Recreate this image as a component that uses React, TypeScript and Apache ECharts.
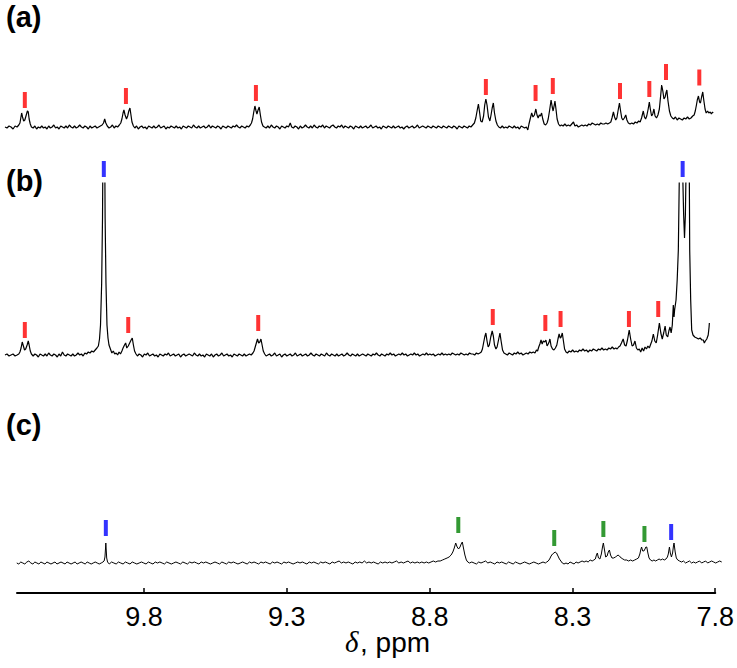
import React, { useEffect, useRef } from "react";
import * as echarts from "echarts";

// x: chemical shift (ppm); y: intensity (arbitrary units)
const traceA: number[][] = [
  [10.286,0],[10.279,-1],[10.272,1],[10.265,0],[10.258,-2],[10.251,1],[10.244,0],[10.238,2],
  [10.234,4],[10.231,9],[10.228,14],[10.225,10],[10.221,6],[10.217,7],[10.212,12],[10.208,16],[10.205,15],[10.202,8],[10.198,3],[10.194,0],
  [10.188,-1],[10.182,1],[10.176,-2],[10.170,0],[10.164,-1],[10.158,1],[10.152,-1],[10.146,0],[10.140,-2],[10.134,1],[10.128,-1],[10.122,0],[10.116,2],[10.110,-1],[10.104,0],[10.098,-2],[10.092,1],[10.086,0],[10.080,-1],[10.074,1],[10.068,-1],[10.062,2],[10.056,0],[10.050,-1],[10.044,1],[10.038,-1],[10.032,0],[10.026,2],[10.020,0],[10.014,-1],[10.008,1],[10.002,0],[9.996,-2],[9.990,1],[9.984,-1],[9.978,0],[9.972,1],[9.966,-1],[9.960,0],[9.954,1],
  [9.948,2],[9.943,4],[9.939,8],[9.935,4],[9.930,1],
  [9.924,-1],[9.918,0],[9.912,2],[9.906,-1],[9.900,1],[9.894,0],[9.888,2],
  [9.883,4],[9.879,8],[9.875,14],[9.872,17],[9.868,12],[9.863,8],[9.859,11],[9.855,16],[9.851,19],[9.848,13],[9.844,5],[9.839,1],
  [9.834,-1],[9.828,1],[9.822,-2],[9.816,0],[9.810,1],[9.804,-1],[9.798,0],[9.792,-2],[9.786,1],[9.780,0],[9.774,-1],[9.768,1],[9.762,-1],[9.756,0],[9.750,2],[9.744,-1],[9.738,0],[9.732,1],[9.726,-2],[9.720,0],[9.714,-1],[9.708,1],[9.702,0],[9.696,-1],[9.690,1],[9.684,-1],[9.678,0],[9.672,-2],[9.666,1],[9.660,0],[9.654,-1],[9.648,1],[9.642,0],[9.636,-1],[9.630,2],[9.624,0],[9.618,-1],[9.612,1],[9.606,-1],[9.600,0],[9.594,1],[9.588,-1],[9.582,0],[9.576,2],[9.570,-1],[9.564,1],[9.558,0],[9.552,-1],[9.546,1],[9.540,0],[9.534,-2],[9.528,1],[9.522,0],[9.516,-1],[9.510,1],[9.504,0],[9.498,-1],[9.492,1],[9.486,0],[9.480,2],[9.474,0],[9.468,-1],[9.462,1],[9.456,0],[9.450,-1],[9.444,1],[9.438,0],[9.432,2],
  [9.428,4],[9.424,8],[9.420,15],[9.416,21],[9.412,16],[9.409,13],[9.405,17],[9.401,20],[9.397,12],[9.393,5],[9.388,1],
  [9.383,0],[9.377,-1],[9.371,1],[9.365,-1],[9.359,2],[9.353,0],[9.347,-1],[9.341,1],[9.335,0],[9.329,-2],[9.323,1],[9.317,0],[9.311,-1],[9.305,1],[9.299,0],[9.293,4],[9.288,0],[9.282,-1],[9.276,1],[9.270,0],[9.264,-2],[9.258,1],[9.252,-1],[9.246,0],[9.240,2],[9.234,0],[9.228,-1],[9.222,1],[9.216,-1],[9.210,2],[9.204,0],[9.198,-1],[9.192,1],[9.186,0],[9.180,2],[9.174,-1],[9.168,1],[9.162,0],[9.156,-1],[9.150,1],[9.144,2],[9.138,0],[9.132,-1],[9.126,1],[9.120,0],[9.114,2],[9.108,-1],[9.102,1],[9.096,0],[9.090,-1],[9.084,1],[9.078,0],[9.072,-2],[9.066,1],[9.060,0],[9.054,-1],[9.048,1],[9.042,-1],[9.036,0],[9.030,1],[9.024,-1],[9.018,0],[9.012,2],[9.006,-1],[9.000,0],[8.994,1],[8.988,-1],[8.982,0],[8.976,-2],[8.970,1],[8.964,0],[8.958,-1],[8.952,1],[8.946,0],[8.940,-1],[8.934,1],[8.928,-1],[8.922,0],[8.916,1],[8.910,-1],[8.904,0],[8.898,-2],[8.892,0],[8.886,1],[8.880,-1],[8.874,0],[8.868,1],[8.862,-1],[8.856,0],[8.850,2],[8.844,-1],[8.838,0],[8.832,1],[8.826,0],[8.820,-1],[8.814,1],[8.808,0],[8.802,-1],[8.796,1],[8.790,0],[8.784,-1],[8.778,1],[8.772,0],[8.766,-1],[8.760,1],[8.754,0],[8.748,-1],[8.742,1],[8.736,0],[8.730,-1],[8.724,1],[8.718,0],[8.712,-2],[8.706,1],[8.700,0],[8.694,-1],[8.688,1],[8.682,0],[8.676,-1],[8.670,1],[8.664,0],[8.658,2],
  [8.652,4],[8.647,9],[8.642,17],[8.638,23],[8.634,15],[8.630,6],[8.625,5],[8.620,11],[8.616,22],[8.612,28],[8.608,22],[8.603,10],[8.598,6],[8.594,12],[8.590,19],[8.586,24],[8.582,14],[8.577,6],[8.572,2],
  [8.567,0],[8.561,-1],[8.555,1],[8.549,-1],[8.543,0],[8.537,-1],[8.531,1],[8.525,0],[8.519,-1],[8.513,1],[8.507,-1],[8.501,0],[8.495,-2],[8.489,1],[8.483,0],[8.477,-1],[8.471,0],[8.466,-3],
  [8.462,3],[8.457,9],[8.4525,14],[8.448,10],[8.443,12],[8.438,18],[8.434,12],[8.430,9],[8.426,12],[8.422,11],[8.418,14],[8.414,8],[8.409,3],[8.404,2],[8.399,4],
  [8.395,8],[8.390,17],[8.385,27],[8.381,20],[8.378,16],[8.3745,21],[8.3715,26],[8.368,18],[8.364,8],[8.359,3],[8.354,1],
  [8.349,2],[8.343,1],[8.337,3],[8.331,1],[8.325,2],[8.319,1],[8.313,3],[8.307,5],[8.302,1],[8.296,2],[8.290,0],[8.284,1],[8.278,2],[8.272,1],[8.266,2],[8.260,1],[8.254,3],[8.248,2],[8.242,4],[8.236,3],[8.230,2],[8.224,3],[8.218,2],[8.212,4],[8.206,3],[8.200,3],[8.194,4],[8.188,3],[8.182,4],[8.177,5],
  [8.173,9],[8.168,15],[8.164,10],[8.160,7],[8.156,9],[8.152,16],[8.147,24],[8.143,16],[8.139,9],[8.135,7],[8.130,9],[8.125,12],[8.121,7],[8.116,4],
  [8.110,3],[8.104,4],[8.098,3],[8.092,5],[8.086,4],[8.080,6],[8.075,5],[8.070,9],
  [8.064,16],[8.060,10],[8.056,8],[8.052,11],[8.047,18],[8.043,25],[8.039,17],[8.035,11],[8.031,13],[8.027,18],[8.023,11],[8.018,9],[8.013,12],[8.008,18],
  [8.004,30],[8.000,42],[7.996,36],[7.992,28],[7.988,30],[7.985,34],[7.982,37],[7.978,26],[7.973,16],[7.968,11],[7.963,9],
  [7.958,8],[7.952,10],[7.946,7],[7.940,9],[7.934,8],[7.928,7],[7.922,9],[7.916,8],[7.910,10],[7.904,8],[7.898,9],[7.892,11],[7.887,12],
  [7.883,16],[7.879,22],[7.876,27],[7.872,31],[7.868,25],[7.865,24],[7.861,30],[7.857,35],[7.853,26],[7.849,18],[7.845,14],[7.840,16],[7.836,14],[7.831,15],[7.827,13],[7.823,15],[7.821,14],
];

const traceB: number[][] = [
  [10.286,0],[10.279,1],[10.272,-1],[10.265,0],[10.258,1],[10.251,-1],[10.244,0],[10.238,1],
  [10.234,3],[10.230,7],[10.226,13],[10.222,9],[10.218,5],[10.214,6],[10.209,10],[10.205,14],[10.202,10],[10.198,4],[10.194,1],
  [10.188,-1],[10.182,1],[10.176,0],[10.170,-2],[10.164,1],[10.158,0],[10.152,-1],[10.146,1],[10.140,-1],[10.134,2],[10.128,0],[10.122,-1],[10.116,1],[10.110,0],[10.104,-2],[10.098,1],[10.092,-1],[10.086,3],[10.080,0],[10.074,-1],[10.068,1],[10.062,0],[10.056,-1],[10.050,1],[10.044,-1],[10.038,0],[10.032,2],[10.026,0],[10.020,1],[10.014,-1],[10.008,2],[10.002,1],[9.996,3],[9.990,2],[9.984,4],[9.978,3],[9.972,5],[9.966,7],[9.961,9],
  [9.957,16],[9.9535,30],[9.9495,72],[9.9465,138],[9.944,260],[9.942,400],[9.940,260],[9.9375,138],[9.9345,72],[9.931,30],[9.9275,17],[9.924,10],[9.919,6],[9.914,2],[9.909,4],[9.904,1],
  [9.899,2],[9.894,0],[9.889,3],[9.884,1],[9.879,4],
  [9.875,7],[9.870,10],[9.866,12],[9.862,7],[9.857,9],[9.852,12],[9.847,15],[9.843,17],[9.839,10],[9.835,4],[9.830,1],
  [9.825,-1],[9.819,1],[9.813,0],[9.807,-2],[9.801,1],[9.795,0],[9.789,2],[9.783,-1],[9.777,0],[9.771,1],[9.765,-1],[9.759,0],[9.753,-2],[9.747,1],[9.741,0],[9.735,-1],[9.729,1],[9.723,0],[9.717,2],[9.711,-1],[9.705,0],[9.699,1],[9.693,-1],[9.687,0],[9.681,1],[9.675,-2],[9.669,0],[9.663,1],[9.657,-1],[9.651,0],[9.645,1],[9.639,0],[9.633,-1],[9.627,2],[9.621,0],[9.615,-1],[9.609,1],[9.603,-1],[9.597,0],[9.591,-2],[9.585,1],[9.579,0],[9.573,-1],[9.567,1],[9.561,-2],[9.555,0],[9.549,1],[9.543,-1],[9.537,0],[9.531,2],[9.525,-1],[9.519,0],[9.513,1],[9.507,-1],[9.501,0],[9.495,-2],[9.489,1],[9.483,0],[9.477,-1],[9.471,1],[9.465,0],[9.459,-1],[9.453,1],[9.447,-1],[9.441,0],[9.435,1],[9.429,0],[9.423,2],
  [9.419,4],[9.415,8],[9.411,12],[9.407,16],[9.403,12],[9.399,13],[9.395,16],[9.391,10],[9.387,4],[9.382,1],
  [9.377,-1],[9.371,0],[9.365,1],[9.359,-1],[9.353,0],[9.347,2],[9.341,-1],[9.335,0],[9.329,1],[9.323,-2],[9.317,0],[9.311,1],[9.305,-1],[9.299,0],[9.293,1],[9.287,-1],[9.281,0],[9.275,2],[9.269,-1],[9.263,0],[9.257,1],[9.251,-1],[9.245,0],[9.239,1],[9.233,-1],[9.227,0],[9.221,2],[9.215,0],[9.209,-1],[9.203,1],[9.197,0],[9.191,-1],[9.185,1],[9.179,0],[9.173,-1],[9.167,2],[9.161,0],[9.155,-1],[9.149,1],[9.143,0],[9.137,-1],[9.131,1],[9.125,-1],[9.119,0],[9.113,1],[9.107,-1],[9.101,0],[9.095,2],[9.089,0],[9.083,-1],[9.077,1],[9.071,0],[9.065,-1],[9.059,1],[9.053,-1],[9.047,0],[9.041,1],[9.035,0],[9.029,-1],[9.023,1],[9.017,0],[9.011,-1],[9.005,1],[8.999,0],[8.993,2],[8.987,0],[8.981,-1],[8.975,1],[8.969,0],[8.963,-1],[8.957,1],[8.951,0],[8.945,2],[8.939,0],[8.933,1],[8.927,-1],[8.921,0],[8.915,1],[8.909,0],[8.903,2],[8.897,0],[8.891,1],[8.885,-1],[8.879,0],[8.873,1],[8.867,0],[8.861,2],[8.855,0],[8.849,1],[8.843,-1],[8.837,0],[8.831,1],[8.825,0],[8.819,2],[8.813,0],[8.807,1],[8.801,0],[8.795,1],[8.789,-1],[8.783,0],[8.777,1],[8.771,0],[8.765,2],[8.759,0],[8.753,1],[8.747,0],[8.741,1],[8.735,0],[8.729,2],[8.723,1],[8.717,0],[8.711,1],[8.705,0],[8.699,2],[8.693,1],[8.687,0],[8.681,1],[8.675,0],[8.669,2],[8.663,1],[8.657,1],[8.651,0],[8.645,2],[8.639,1],[8.633,2],[8.628,3],
  [8.624,6],[8.620,12],[8.616,18],[8.612,22],[8.608,14],[8.604,8],[8.600,10],[8.595,18],[8.590,24],[8.586,19],[8.582,10],[8.577,6],[8.573,8],[8.568,15],[8.563,22],[8.559,14],[8.554,5],[8.549,2],
  [8.543,1],[8.537,0],[8.531,2],[8.525,1],[8.519,0],[8.513,2],[8.507,1],[8.501,3],[8.495,1],[8.489,2],[8.483,0],[8.477,1],[8.471,2],[8.465,1],[8.459,3],[8.453,2],[8.447,3],[8.441,2],[8.436,5],[8.432,4],
  [8.428,8],[8.424,11],[8.420,15],[8.416,11],[8.412,14],[8.407,13],[8.403,15],[8.399,9],[8.395,11],[8.392,13],[8.389,16],[8.385,9],[8.380,6],[8.375,5],[8.370,7],
  [8.365,10],[8.361,16],[8.357,21],[8.353,17],[8.350,18],[8.346,22],[8.342,14],[8.338,6],[8.333,3],
  [8.328,2],[8.322,4],[8.316,3],[8.310,5],[8.304,3],[8.298,4],[8.292,3],[8.286,5],[8.280,4],[8.274,6],[8.268,4],[8.262,5],[8.256,3],[8.250,5],[8.244,4],[8.238,6],[8.232,5],[8.226,4],[8.220,6],[8.214,5],[8.208,7],[8.202,5],[8.196,6],[8.190,5],[8.184,7],[8.178,6],[8.172,8],[8.166,6],[8.160,7],[8.155,6],[8.150,8],[8.145,9],
  [8.140,12],[8.134,16],[8.129,10],[8.124,9],[8.119,15],[8.113,25],[8.108,16],[8.103,9],[8.098,10],[8.093,14],[8.088,7],[8.083,5],
  [8.078,6],[8.073,3],[8.068,7],[8.063,4],[8.058,8],[8.053,6],[8.048,9],[8.043,7],[8.038,11],[8.034,14],
  [8.029,21],[8.024,14],[8.019,12],[8.014,20],[8.008,32],[8.003,22],[7.998,16],[7.993,22],[7.988,29],[7.984,20],[7.979,18],[7.975,24],[7.971,28],[7.967,22],[7.963,30],
  [7.9595,50],[7.957,38],[7.955,45],[7.950,55],[7.946,75],[7.942,105],[7.9385,180],[7.934,400],[7.930,300],[7.9267,180],[7.9235,140],[7.9205,117],[7.9175,140],[7.9154,180],[7.911,300],[7.907,400],[7.9038,180],[7.9024,105],[7.899,55],[7.8955,25],[7.891,20],[7.885,18],[7.878,17],[7.872,16],[7.866,17],[7.860,15],[7.855,15],[7.8515,12],[7.848,14],[7.843,16],[7.838,20],[7.835,28],[7.834,32],
];

const traceC: number[][] = [
  [10.245,0],[10.238,-1],[10.231,1],[10.224,0],[10.217,-1],[10.210,1],[10.203,2],[10.196,0],[10.189,-1],[10.182,1],[10.175,0],[10.168,-1],[10.161,1],[10.154,0],[10.147,-1],[10.140,1],[10.133,0],[10.126,-1],[10.119,0],[10.112,1],[10.105,-1],[10.098,0],[10.091,1],[10.084,0],[10.077,-1],[10.070,1],[10.063,0],[10.056,-1],[10.049,0],[10.042,1],[10.035,-1],[10.028,0],[10.021,1],[10.014,0],[10.007,-1],[10.000,1],[9.993,0],[9.986,-1],[9.979,0],[9.972,1],[9.965,0],[9.958,-1],[9.951,0],[9.945,1],[9.941,2],
  [9.938,6],[9.936,15],[9.935,20],[9.934,15],[9.932,5],[9.929,1],
  [9.923,-1],[9.915,1],[9.907,0],[9.899,-1],[9.891,1],[9.883,0],[9.875,-1],[9.867,1],[9.859,0],[9.851,-1],[9.843,1],[9.835,0],[9.827,-1],[9.819,0],[9.811,1],[9.803,0],[9.795,-1],[9.787,1],[9.779,0],[9.771,-1],[9.763,1],[9.755,0],[9.747,1],[9.739,0],[9.731,-1],[9.723,1],[9.715,0],[9.707,-1],[9.699,0],[9.691,1],[9.683,0],[9.675,-1],[9.667,1],[9.659,0],[9.651,-1],[9.643,1],[9.635,0],[9.627,1],[9.619,0],[9.611,-1],[9.603,1],[9.595,0],[9.587,1],[9.579,0],[9.571,-1],[9.563,0],[9.555,1],[9.547,0],[9.539,-1],[9.531,1],[9.523,0],[9.515,-1],[9.507,1],[9.499,0],[9.491,1],[9.483,0],[9.475,-1],[9.467,0],[9.459,1],[9.451,0],[9.443,-1],[9.435,1],[9.427,0],[9.419,1],[9.411,0],[9.403,-1],[9.395,1],[9.387,0],[9.379,1],[9.371,0],[9.363,-1],[9.355,1],[9.347,0],[9.339,1],[9.331,0],[9.323,-1],[9.315,1],[9.307,0],[9.299,1],[9.291,0],[9.283,-1],[9.275,0],[9.267,1],[9.259,0],[9.251,1],[9.243,0],[9.235,-1],[9.227,1],[9.219,0],[9.211,1],[9.203,0],[9.195,-1],[9.187,1],[9.179,0],[9.171,1],[9.163,0],[9.155,-1],[9.147,1],[9.139,0],[9.131,1],[9.123,2],[9.115,0],[9.107,1],[9.099,0],[9.091,1],[9.083,0],[9.075,-1],[9.067,1],[9.059,0],[9.051,1],[9.043,0],[9.035,2],[9.027,0],[9.019,1],[9.011,0],[9.003,1],[8.995,0],[8.987,-1],[8.979,1],[8.971,0],[8.963,1],[8.955,0],[8.947,1],[8.939,0],[8.931,1],[8.923,2],[8.915,0],[8.907,1],[8.899,0],[8.891,1],[8.883,2],[8.875,0],[8.867,1],[8.859,0],[8.851,1],[8.843,0],[8.835,1],[8.827,0],[8.819,1],[8.811,0],[8.803,1],[8.795,2],[8.787,1],[8.779,2],
  [8.771,2],[8.763,3],[8.755,4],[8.747,5],[8.740,6],[8.733,8],[8.727,11],[8.722,15],[8.717,20],[8.712,16],[8.707,14],[8.702,16],[8.698,19],[8.694,21],[8.690,15],[8.685,8],[8.680,3],[8.675,1],
  [8.669,0],[8.661,1],[8.653,0],[8.645,-1],[8.637,1],[8.629,0],[8.621,1],[8.613,2],[8.605,0],[8.597,1],[8.589,0],[8.581,-1],[8.573,1],[8.565,0],[8.557,1],[8.549,0],[8.541,-1],[8.533,1],[8.525,0],[8.517,-1],[8.509,1],[8.501,0],[8.493,-1],[8.485,0],[8.477,1],[8.469,0],[8.461,-1],[8.453,0],[8.445,1],[8.437,0],[8.429,-1],[8.421,0],[8.413,1],[8.405,0],[8.400,1],
  [8.395,2],[8.390,4],[8.385,7],[8.380,9],[8.375,10],[8.371,11],[8.366,10],[8.361,7],[8.356,4],[8.351,2],[8.346,0],
  [8.340,-1],[8.333,0],[8.326,-1],[8.319,1],[8.312,0],[8.305,-1],[8.298,1],[8.291,0],[8.284,1],[8.277,2],[8.270,1],[8.263,2],[8.256,1],[8.249,3],[8.242,2],[8.236,3],
  [8.231,4],[8.227,8],[8.224,10],[8.220,5],[8.215,4],[8.210,9],[8.206,16],[8.203,20],[8.199,13],[8.195,6],[8.190,7],[8.186,11],[8.182,13],[8.178,8],[8.173,5],[8.167,5],[8.161,6],[8.156,7],[8.152,8],[8.147,7],[8.141,5],[8.135,4],[8.129,3],[8.122,3],[8.115,2],[8.108,3],[8.101,2],[8.094,3],[8.087,4],[8.081,5],
  [8.076,9],[8.073,13],[8.070,16],[8.066,12],[8.062,12],[8.058,14],[8.055,16],[8.052,16],[8.048,10],[8.044,5],[8.039,3],[8.033,2],[8.027,3],[8.021,2],[8.015,3],[8.009,4],[8.003,3],[7.997,4],[7.991,3],[7.985,4],[7.980,6],
  [7.977,9],[7.973,16],[7.970,10],[7.966,6],[7.962,10],[7.959,17],[7.957,20],[7.953,11],[7.949,5],[7.944,3],[7.938,2],
  [7.931,1],[7.924,2],[7.917,0],[7.910,1],[7.903,2],[7.896,0],[7.889,1],[7.882,0],[7.875,1],[7.868,2],[7.861,0],[7.854,1],[7.847,2],[7.840,0],[7.833,1],[7.826,2],[7.819,1],[7.812,0],[7.805,1],[7.798,2],[7.791,1],
];

// peak-assignment markers: [ppm, height]
const redMarksA = [[10.217,27],[9.865,31],[9.4125,34],[8.612,40],[8.439,34],[8.379,41],[8.145,36],[8.043,38],[7.985,55],[7.869,49.5]];
const redMarksB = [[10.217,25],[9.857,30],[9.4045,32],[8.588,38],[8.405,32],[8.352,36],[8.114,36],[8.012,46]];
const blueMarksB = [[9.942,186],[7.927,186]];
const blueMarksC = [[9.935,35],[7.967,31]];
const greenMarksC = [[8.708,38],[8.374,25],[8.203,34],[8.060,29]];

const tickValues = [7.8, 8.3, 8.8, 9.3, 9.8];
const panelLabels = ["(a)", "(b)", "(c)"];

const SANS = "'Liberation Sans', Arial, Helvetica, sans-serif";

export default function App() {
  const ref = useRef<HTMLDivElement>(null);
  useEffect(() => {
    if (!ref.current) return;
    const chart = echarts.init(ref.current, null, { renderer: "svg" });
    const gridsY = [
      { top: 20, height: 117, min: -10, max: 107 },
      { top: 183, height: 182, min: -10, max: 172 },
      { top: 450, height: 143, min: -30, max: 113 },
    ];
    const traces = [traceA, traceB, traceC];
    const lineWidths = [1.2, 1.2, 1];
    const grid: any[] = gridsY.map((g) => ({ left: 5, width: 717, top: g.top, height: g.height }));
    grid.push({ left: 17, width: 702, top: 560, height: 33 });
    const xAxis: any[] = gridsY.map((_, i) => ({
      type: "value", gridIndex: i, min: 7.79, max: 10.286, inverse: true, show: false,
    }));
    xAxis.push({
      type: "value", gridIndex: 3, min: 7.8, max: 10.245, inverse: true, position: "bottom",
      axisLine: { show: true, onZero: false, lineStyle: { color: "#000", width: 2 } },
      axisTick: { show: true, inside: true, length: 5, lineStyle: { color: "#000", width: 1.5 }, customValues: tickValues },
      axisLabel: {
        show: true, customValues: tickValues, margin: 10, fontSize: 27, color: "#000", fontFamily: SANS,
        formatter: (v: number) => v.toFixed(1),
      },
      splitLine: { show: false },
    });
    const yAxis: any[] = gridsY.map((g, i) => ({ type: "value", gridIndex: i, min: g.min, max: g.max, show: false }));
    yAxis.push({ type: "value", gridIndex: 3, min: 0, max: 1, show: false });

    const series: any[] = traces.map((d, i) => ({
      type: "line", xAxisIndex: i, yAxisIndex: i, data: d, symbol: "none", showSymbol: false,
      clip: true, silent: true, lineStyle: { color: "#000", width: lineWidths[i] },
    }));
    const markerSeries = (data: number[][], idx: number, color: string) => ({
      type: "scatter", xAxisIndex: idx, yAxisIndex: idx, data, symbol: "rect", symbolSize: [4, 16],
      clip: false, silent: true, itemStyle: { color },
    });
    series.push(markerSeries(redMarksA, 0, "#ff0000"));
    series.push(markerSeries(redMarksB, 1, "#ff0000"));
    series.push(markerSeries(blueMarksB, 1, "#0000ff"));
    series.push(markerSeries(blueMarksC, 2, "#0000ff"));
    series.push(markerSeries(greenMarksC, 2, "#008000"));

    const labelY = [17, 181, 425];
    const graphic: any[] = panelLabels.map((t, i) => ({
      type: "text", x: 6, y: labelY[i],
      style: { text: t, font: `bold 29px ${SANS}`, fill: "#000", verticalAlign: "middle", align: "left" },
    }));
    graphic.push({
      type: "text", x: 345, y: 642,
      style: { text: "δ", font: `italic 29px 'Liberation Serif', 'Times New Roman', serif`, fill: "#000", verticalAlign: "middle", align: "left" },
    });
    graphic.push({
      type: "text", x: 360, y: 642,
      style: { text: ", ppm", font: `28px ${SANS}`, fill: "#000", verticalAlign: "middle", align: "left" },
    });

    chart.setOption({ animation: false, grid, xAxis, yAxis, series, graphic });
    return () => chart.dispose();
  }, []);
  return <div ref={ref} style={{ width: 737, height: 668, position: "absolute", left: 0, top: 0 }} />;
}
